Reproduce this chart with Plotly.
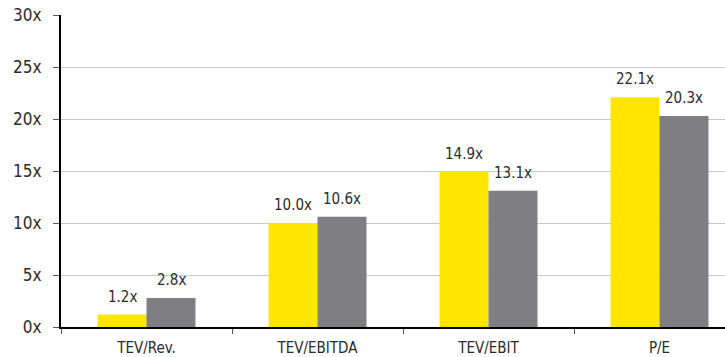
import plotly.graph_objects as go

categories = ["TEV/Rev.", "TEV/EBITDA", "TEV/EBIT", "P/E"]
series_a = [1.2, 10.0, 14.9, 22.1]
series_b = [2.8, 10.6, 13.1, 20.3]
y_ticks = [0, 5, 10, 15, 20, 25, 30]

FONT = "Liberation Sans Narrow, DejaVu Sans Condensed, sans-serif"
TEXT_COLOR = "#2b2b2b"
BARGAP = 0.427
BAR_W = (1 - BARGAP) / 2

fig = go.Figure()
for k, (vals, color) in enumerate([(series_a, "#FFE600"), (series_b, "#7F7E83")]):
    fig.add_trace(go.Bar(
        x=categories, y=vals,
        marker=dict(color=color, line=dict(width=0)),
    ))
    # value labels sitting a little above each bar
    shift = (k - 0.5) * BAR_W
    for i, v in enumerate(vals):
        fig.add_annotation(
            x=i + shift, y=v, text=f"{v:.1f}x",
            xref="x", yref="y", showarrow=False,
            yanchor="bottom", yshift=7,
            font=dict(family=FONT, size=15, color=TEXT_COLOR),
        )

fig.update_layout(
    width=725, height=357,
    margin=dict(l=61, r=0, t=15, b=30),
    paper_bgcolor="white", plot_bgcolor="white",
    barmode="group", bargap=BARGAP, bargroupgap=0,
    showlegend=False,
    font=dict(family=FONT, size=15, color=TEXT_COLOR),
    xaxis=dict(
        range=[-0.5, 3.383],
        showline=True, linecolor="black", linewidth=2,
        ticks="outside", ticklen=5, tickcolor="#555555",
        tickson="boundaries", tickfont=dict(size=15),
        ticklabelstandoff=6,
        showgrid=False,
    ),
    yaxis=dict(
        range=[0, 30], tickvals=y_ticks,
        ticktext=[f"{t}x" for t in y_ticks],
        showline=True, linecolor="black", linewidth=2,
        ticks="outside", ticklen=6, tickcolor="#555555",
        ticklabelstandoff=8,
        showgrid=True, gridcolor="#C8C8C8", gridwidth=1,
        zeroline=False, tickfont=dict(size=17),
    ),
)

fig.write_html("out.html")
